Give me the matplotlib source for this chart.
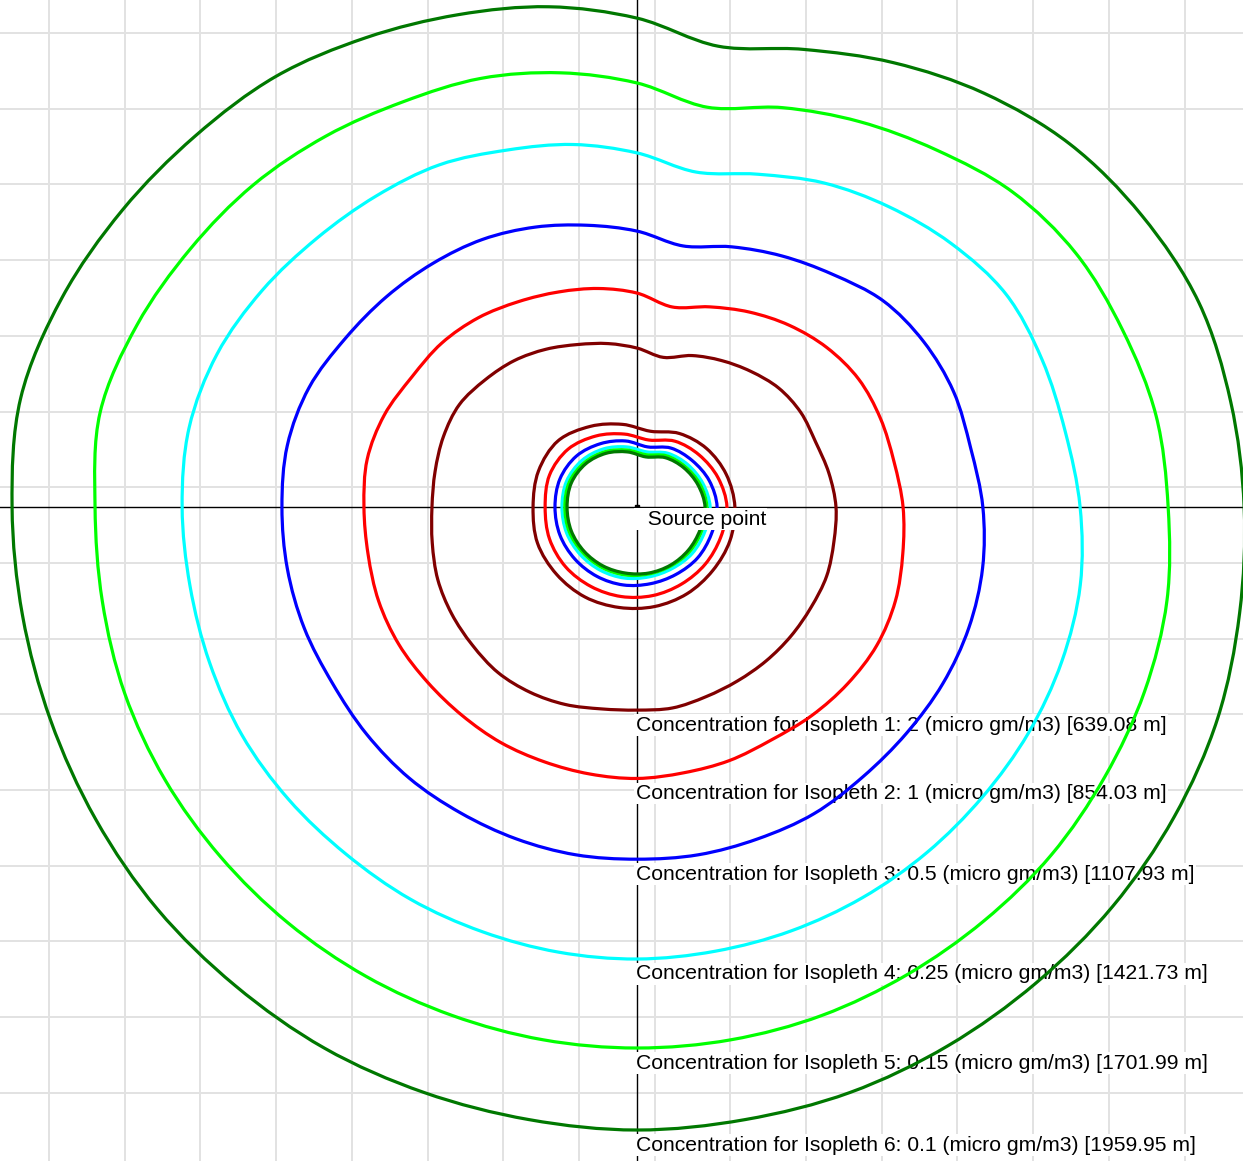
import numpy as np
import matplotlib
matplotlib.use("Agg")
import matplotlib.pyplot as plt
from matplotlib.path import Path
from matplotlib.patches import PathPatch

# wind directions (deg, counter-clockwise from east) used for the isopleths
dirs_far = np.arange(0, 360, 10)
dirs_near = np.arange(0, 360, 20)

# far-field isopleth distance from the source point (m) in each direction
iso1 = [626, 613, 598, 595, 582, 557, 532, 507, 478, 500, 522, 544, 573, 601, 623, 645, 648, 645,
        645, 654, 667, 673, 676, 680, 673, 661, 645, 639, 642, 635, 632, 632, 632, 632, 635, 629]
iso2 = [837, 821, 815, 805, 780, 746, 708, 670, 639, 673, 698, 720, 746, 777, 802, 818, 846, 862,
        859, 859, 865, 865, 859, 856, 856, 853, 853, 854, 849, 849, 846, 856, 865, 871, 865, 849]
iso3 = [1088, 1066, 1060, 1041, 1010, 956, 912, 871, 834, 868, 900, 937, 972, 1000, 1029, 1060, 1098, 1117,
        1117, 1117, 1114, 1107, 1111, 1114, 1111, 1111, 1111, 1108, 1111, 1111, 1114, 1107, 1107, 1111, 1111, 1104]
iso4 = [1394, 1368, 1356, 1340, 1290, 1233, 1177, 1114, 1070, 1114, 1158, 1195, 1243, 1277, 1315, 1362, 1406, 1431,
        1431, 1428, 1431, 1435, 1431, 1425, 1425, 1422, 1422, 1422, 1419, 1419, 1419, 1419, 1419, 1422, 1422, 1416]
iso5 = [1671, 1658, 1626, 1595, 1542, 1466, 1400, 1337, 1277, 1334, 1387, 1435, 1472, 1523, 1576, 1623, 1674, 1715,
        1705, 1708, 1715, 1715, 1711, 1708, 1705, 1702, 1702, 1702, 1702, 1702, 1699, 1699, 1702, 1699, 1699, 1693]
iso6 = [1910, 1897, 1881, 1834, 1777, 1699, 1614, 1532, 1472, 1538, 1598, 1648, 1705, 1768, 1815, 1869, 1925, 1969,
        1966, 1963, 1963, 1966, 1969, 1966, 1966, 1960, 1957, 1960, 1957, 1960, 1957, 1954, 1954, 1951, 1944, 1925]

# near-field rings (m)
near1 = [308, 299, 286, 267, 242, 264, 293, 324, 330, 327, 333, 330, 327, 321, 318, 315, 311, 311]
near2 = [283, 271, 255, 239, 214, 233, 258, 283, 293, 289, 293, 293, 289, 286, 283, 280, 280, 280]
near3 = [252, 242, 227, 214, 192, 211, 230, 249, 258, 258, 258, 255, 252, 249, 245, 245, 249, 249]
near4 = [230, 220, 208, 195, 176, 192, 211, 227, 236, 236, 236, 233, 230, 227, 223, 223, 227, 227]
near5 = [220, 211, 198, 186, 167, 182, 201, 217, 227, 227, 227, 223, 220, 217, 214, 214, 217, 217]
near6 = [214, 204, 192, 179, 160, 176, 195, 211, 220, 220, 220, 217, 214, 211, 211, 211, 211, 211]

concentrations = ["2", "1", "0.5", "0.25", "0.15", "0.1"]
south_dist = [639.08, 854.03, 1107.93, 1421.73, 1701.99, 1959.95]
colors = ["#800000", "#ff0000", "#0000ff", "#00ffff", "#00ff00", "#007800"]

far = [iso1, iso2, iso3, iso4, iso5, iso6]
near = [near1, near2, near3, near4, near5, near6]

plt.rcParams['font.family'] = ['Liberation Sans', 'DejaVu Sans']

W, H = 1243, 1161
cx, cy = 637, 507          # source point in pixels (from top left)
m_per_px = 3.146

fig = plt.figure(figsize=(W / 100, H / 100), dpi=100)
ax = fig.add_axes([0, 0, 1, 1])
ax.set_xlim(-cx * m_per_px, (W - cx) * m_per_px)
ax.set_ylim((cy - H) * m_per_px, cy * m_per_px)
ax.axis("off")

# background grid (not aligned with the source point)
step = 75.7 * m_per_px
for gx in np.arange(-588 * m_per_px, 620 * m_per_px, step):
    ax.axvline(gx, color="#e2e2e2", lw=1.4, zorder=0)
for gy in np.arange(474 * m_per_px, -660 * m_per_px, -step):
    ax.axhline(gy, color="#e2e2e2", lw=1.4, zorder=0)

ax.axhline(0, color="black", lw=1.0, zorder=1)
ax.axvline(0, color="black", lw=1.0, zorder=1)

for i, (conc, d) in enumerate(zip(concentrations, south_dist)):
    ax.annotate(f"Concentration for Isopleth {i + 1}: {conc} (micro gm/m3) [{d:.2f} m]",
                xy=(0, -d), xytext=(-1, -4), textcoords="offset points",
                ha="left", va="top", fontsize=15.2,
                bbox=dict(facecolor="white", edgecolor="none", pad=1), zorder=2)


def ring_patch(dirs, r, c):
    # closed smooth curve through the points (Catmull-Rom as cubic Bezier)
    a = np.radians(dirs)
    p = np.column_stack([np.array(r) * np.cos(a), np.array(r) * np.sin(a)])
    n = len(p)
    verts = [p[0]]
    codes = [Path.MOVETO]
    for k in range(n):
        p0, p1, p2, p3 = p[k - 1], p[k], p[(k + 1) % n], p[(k + 2) % n]
        verts += [p1 + (p2 - p0) / 6, p2 - (p3 - p1) / 6, p2]
        codes += [Path.CURVE4] * 3
    return PathPatch(Path(verts, codes), facecolor="none", edgecolor=c, lw=2.3, zorder=3)


for r, c in zip(far, colors):
    ax.add_patch(ring_patch(dirs_far, r, c))
for r, c in zip(near, colors):
    ax.add_patch(ring_patch(dirs_near, r, c))

ax.plot([0], [0], marker="s", color="black", ms=3, zorder=5)
ax.annotate("  Source point", xy=(0, 0), xytext=(-1, -2), textcoords="offset points",
            ha="left", va="top", fontsize=15.2,
            bbox=dict(facecolor="white", edgecolor="none", pad=1), zorder=6)

fig.savefig("out.png", dpi=100)
